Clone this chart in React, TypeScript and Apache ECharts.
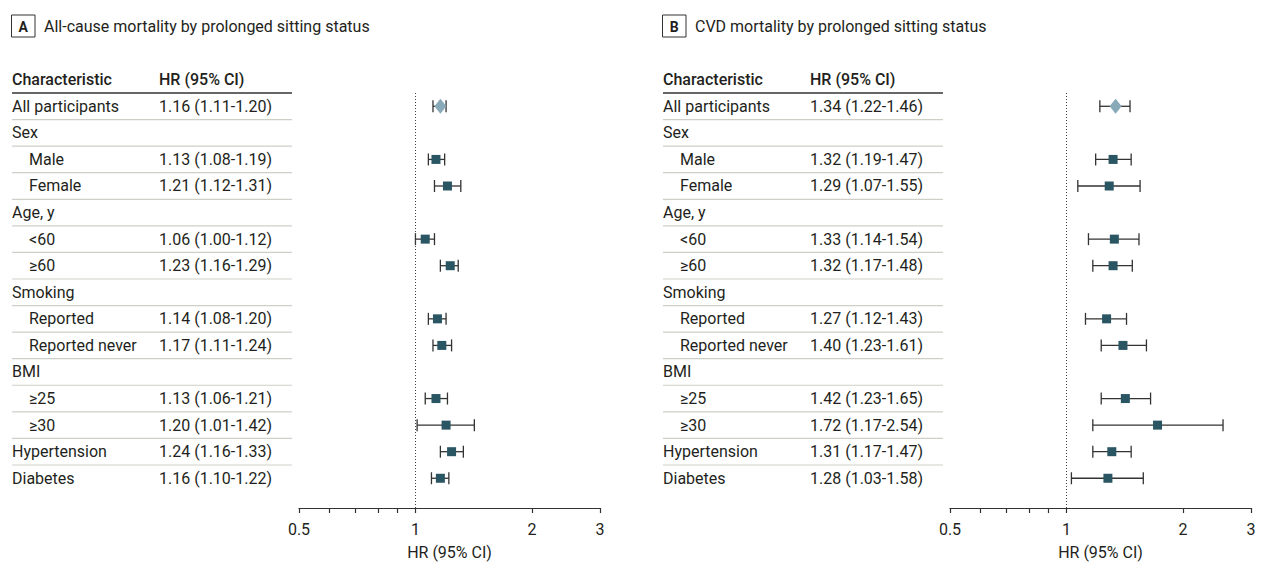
import React, { useEffect, useRef } from "react";
import * as echarts from "echarts";

// ---- data ----
const rowLabels = [
  "All participants", "Sex", "Male", "Female", "Age, y", "<60", "≥60",
  "Smoking", "Reported", "Reported never", "BMI", "≥25", "≥30",
  "Hypertension", "Diabetes",
];
const isSubgroup = [false, false, true, true, false, true, true, false, true, true, false, true, true, false, false];

const hrA = [1.16, null, 1.13, 1.21, null, 1.06, 1.23, null, 1.14, 1.17, null, 1.13, 1.20, 1.24, 1.16];
const loA = [1.11, null, 1.08, 1.12, null, 1.00, 1.16, null, 1.08, 1.11, null, 1.06, 1.01, 1.16, 1.10];
const hiA = [1.20, null, 1.19, 1.31, null, 1.12, 1.29, null, 1.20, 1.24, null, 1.21, 1.42, 1.33, 1.22];

const hrB = [1.34, null, 1.32, 1.29, null, 1.33, 1.32, null, 1.27, 1.40, null, 1.42, 1.72, 1.31, 1.28];
const loB = [1.22, null, 1.19, 1.07, null, 1.14, 1.17, null, 1.12, 1.23, null, 1.23, 1.17, 1.17, 1.03];
const hiB = [1.46, null, 1.47, 1.55, null, 1.54, 1.48, null, 1.43, 1.61, null, 1.65, 2.54, 1.47, 1.58];

const panelTags = ["A", "B"];
const panelTitles = [
  "All-cause mortality by prolonged sitting status",
  "CVD mortality by prolonged sitting status",
];
const tableHeaders = ["Characteristic", "HR (95% CI)"];
const axisTickValues = [0.5, 0.6, 0.7, 0.8, 0.9, 1, 2, 3];
const axisLabelValues = [0.5, 1, 2, 3];
const axisTitle = "HR (95% CI)";
const referenceHR = 1;

// ---- styles ----
const FONT = "Roboto";
const TEXT = "#231f20";
const SQUARE = "#2a5563";
const DIAMOND = "#87a9b8";
const BAR = "#333333";
const SEP = "#cfcfc8";

const panels = [
  { hr: hrA, lo: loA, hi: hiA },
  { hr: hrB, lo: loB, hi: hiB },
];

function fmt(v: number) {
  return v.toFixed(2);
}

function buildOption() {
  const grid: any[] = [];
  const xAxis: any[] = [];
  const yAxis: any[] = [];
  const series: any[] = [];
  const graphic: any[] = [];

  const TOP = 93;
  const BAND = 26.57;
  const nRows = rowLabels.length;
  const tableH = BAND * nRows;
  const extraBelow = 0.62; // rows of space between last row and x axis
  const plotH = BAND * (nRows + extraBelow);

  panels.forEach((p, k) => {
    const dx = k * 651;
    const gTable = grid.length;
    grid.push({ left: 12 + dx, width: 280, top: TOP, height: tableH, outerBoundsMode: "none" });
    const gPlot = grid.length;
    grid.push({ left: 299 + dx, width: 301, top: TOP, height: plotH, outerBoundsMode: "none" });

    const xTable = xAxis.length;
    xAxis.push({ gridIndex: gTable, type: "value", min: 0, max: 280, show: false });
    const xPlot = xAxis.length;
    xAxis.push({
      gridIndex: gPlot,
      type: "log",
      logBase: 10,
      min: 0.5,
      max: 3,
      position: "bottom",
      axisLine: { show: true, onZero: false, lineStyle: { color: "#333", width: 1.2 } },
      axisTick: { show: true, length: 5, lineStyle: { color: "#333", width: 1.2 }, customValues: axisTickValues },
      minorTick: { show: false },
      splitLine: { show: false },
      axisLabel: {
        customValues: axisLabelValues,
        fontFamily: FONT,
        fontSize: 16,
        color: TEXT,
        margin: 13,
        formatter: (v: number) => String(Math.round(v * 10) / 10),
      },
      name: axisTitle,
      nameLocation: "middle",
      nameGap: 36,
      nameTextStyle: { fontFamily: FONT, fontSize: 16, color: TEXT },
    });

    const yTable = yAxis.length;
    yAxis.push({ gridIndex: gTable, type: "category", data: rowLabels, inverse: true, show: false });
    const yPlot = yAxis.length;
    yAxis.push({
      gridIndex: gPlot,
      type: "value",
      min: -0.5,
      max: nRows - 0.5 + extraBelow,
      inverse: true,
      show: false,
    });

    // table text + separators
    series.push({
      type: "custom",
      xAxisIndex: xTable,
      yAxisIndex: yTable,
      silent: true,
      data: rowLabels.map((_, i) => [0, i]),
      renderItem: (params: any, api: any) => {
        const i = params.dataIndex;
        const pt = api.coord([0, i]);
        const band = api.size([0, 1])[1];
        const x0 = pt[0];
        const y = pt[1];
        const children: any[] = [];
        children.push({
          type: "text",
          x: x0 + (isSubgroup[i] ? 17 : 0),
          y,
          style: { text: rowLabels[i], fontFamily: FONT, fontSize: 16, fill: TEXT, align: "left", verticalAlign: "middle" },
        });
        if (p.hr[i] != null) {
          children.push({
            type: "text",
            x: x0 + 147,
            y,
            style: {
              text: `${fmt(p.hr[i] as number)} (${fmt(p.lo[i] as number)}-${fmt(p.hi[i] as number)})`,
              fontFamily: FONT, fontSize: 16, fill: TEXT, align: "left", verticalAlign: "middle",
            },
          });
        }
        if (i < rowLabels.length - 1) {
          children.push({
            type: "line",
            shape: { x1: x0, y1: y + band / 2, x2: x0 + 280, y2: y + band / 2 },
            style: { stroke: SEP, lineWidth: 1.2 },
          });
        }
        if (i === 0) {
          children.push({
            type: "line",
            shape: { x1: x0, y1: y - band / 2, x2: x0 + 280, y2: y - band / 2 },
            style: { stroke: "#333", lineWidth: 1.5 },
          });
          children.push({
            type: "text", x: x0, y: y - band,
            style: { text: tableHeaders[0], fontFamily: FONT, fontSize: 16, fontWeight: 500, fill: TEXT, align: "left", verticalAlign: "middle" },
          });
          children.push({
            type: "text", x: x0 + 147, y: y - band,
            style: { text: tableHeaders[1], fontFamily: FONT, fontSize: 16, fontWeight: 500, fill: TEXT, align: "left", verticalAlign: "middle" },
          });
        }
        return { type: "group", children };
      },
    });

    // reference line
    series.push({
      type: "line",
      xAxisIndex: xPlot,
      yAxisIndex: yPlot,
      data: [],
      markLine: {
        silent: true,
        symbol: "none",
        label: { show: false },
        lineStyle: { type: [1, 2], color: "#444", width: 1 },
        data: [{ xAxis: referenceHR }],
      },
    });

    // error bars
    const ciData: any[] = [];
    p.hr.forEach((v, i) => {
      if (v != null) ciData.push([p.lo[i], p.hi[i], i]);
    });
    series.push({
      type: "custom",
      xAxisIndex: xPlot,
      yAxisIndex: yPlot,
      silent: true,
      data: ciData,
      encode: { x: [0, 1], y: 2 },
      renderItem: (params: any, api: any) => {
        const a = api.coord([api.value(0), api.value(2)]);
        const b = api.coord([api.value(1), api.value(2)]);
        const h = 6;
        const st = { stroke: BAR, lineWidth: 1.3 };
        return {
          type: "group",
          children: [
            { type: "line", shape: { x1: a[0], y1: a[1], x2: b[0], y2: b[1] }, style: st },
            { type: "line", shape: { x1: a[0], y1: a[1] - h, x2: a[0], y2: a[1] + h }, style: st },
            { type: "line", shape: { x1: b[0], y1: b[1] - h, x2: b[0], y2: b[1] + h }, style: st },
          ],
        };
      },
      z: 3,
    });

    // points
    const overall: any[] = [];
    const subs: any[] = [];
    p.hr.forEach((v, i) => {
      if (v == null) return;
      if (i === 0) overall.push([v, i]);
      else subs.push([v, i]);
    });
    series.push({
      type: "scatter",
      xAxisIndex: xPlot,
      yAxisIndex: yPlot,
      data: subs,
      symbol: "rect",
      symbolSize: 9,
      itemStyle: { color: SQUARE, opacity: 1 },
      silent: true,
      z: 4,
    });
    series.push({
      type: "scatter",
      xAxisIndex: xPlot,
      yAxisIndex: yPlot,
      data: overall,
      symbol: "diamond",
      symbolSize: [12, 15],
      itemStyle: { color: DIAMOND, opacity: 1 },
      silent: true,
      z: 4,
    });

    // panel title
    graphic.push({
      type: "rect",
      shape: { x: 11.5 + dx, y: 15, width: 23.5, height: 22 },
      style: { fill: "none", stroke: "#333", lineWidth: 1 },
    });
    graphic.push({
      type: "text",
      x: 23.3 + dx,
      y: 26.5,
      style: { text: panelTags[k], fontFamily: FONT, fontSize: 14, fontWeight: "bold", fill: TEXT, align: "center", verticalAlign: "middle" },
    });
    graphic.push({
      type: "text",
      x: 44 + dx,
      y: 26.5,
      style: { text: panelTitles[k], fontFamily: FONT, fontSize: 16, fill: TEXT, align: "left", verticalAlign: "middle" },
    });
  });

  return {
    animation: false,
    backgroundColor: "#ffffff",
    textStyle: { fontFamily: FONT },
    grid,
    xAxis,
    yAxis,
    series,
    graphic,
  };
}

export default function App() {
  const ref = useRef<HTMLDivElement>(null);
  useEffect(() => {
    if (!ref.current) return;
    const chart = echarts.init(ref.current, undefined, { renderer: "svg" });
    chart.setOption(buildOption() as any);
    return () => chart.dispose();
  }, []);
  return (
    <div
      ref={ref}
      style={{ position: "fixed", left: 0, top: 0, width: 1261, height: 562, background: "#fff" }}
    />
  );
}
